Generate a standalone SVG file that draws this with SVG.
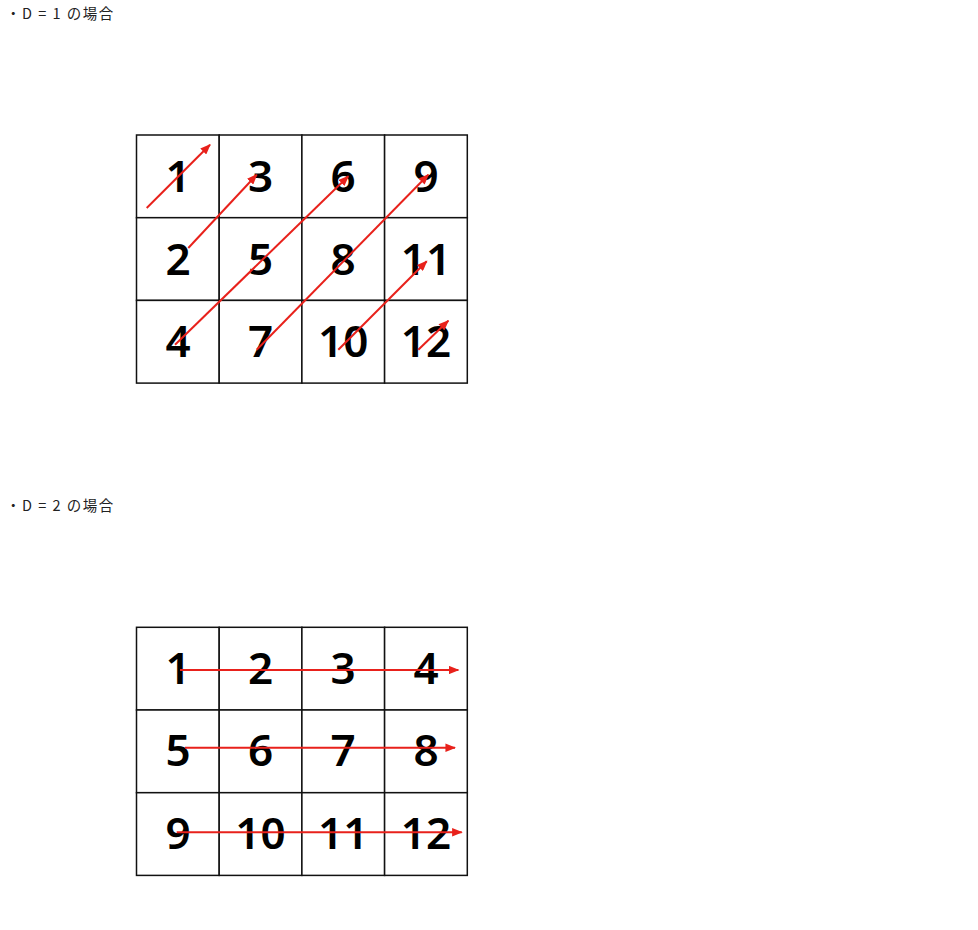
<svg xmlns="http://www.w3.org/2000/svg" width="978" height="930" viewBox="0 0 978 930">
<style>
.title{font-family:"Noto Sans CJK JP","Noto Sans",sans-serif;font-size:14.5px;letter-spacing:1.5px;fill:#222}
.cell{fill:#fff;stroke:#111;stroke-width:1.5}
.num{font-family:"Noto Sans","Liberation Sans",sans-serif;font-size:44px;font-weight:600;fill:#000;text-anchor:middle}
.arr{stroke:#e8211b;stroke-width:2;fill:none;marker-end:url(#ah)}
</style>
<defs>
<marker id="ah" viewBox="0 0 10 8" refX="9" refY="4" markerWidth="11" markerHeight="8.5" markerUnits="userSpaceOnUse" orient="auto">
<path d="M0,0 L10,4 L0,8 Z" fill="#e8211b"/>
</marker>
</defs>
<rect width="978" height="930" fill="#fff"/>
<text class="title" x="6" y="19">・D = 1 の場合</text>
<text class="title" x="6" y="511">・D = 2 の場合</text>

<g id="grid1">
<g id="g1-c1"><rect class="cell" x="136.5" y="135" width="82.7" height="82.7"/><text class="num" x="178" y="192">1</text></g>
<g id="g1-c3"><rect class="cell" x="219.2" y="135" width="82.7" height="82.7"/><text class="num" x="260.5" y="192">3</text></g>
<g id="g1-c6"><rect class="cell" x="301.9" y="135" width="82.7" height="82.7"/><text class="num" x="343.2" y="192">6</text></g>
<g id="g1-c9"><rect class="cell" x="384.6" y="135" width="82.7" height="82.7"/><text class="num" x="426" y="192">9</text></g>
<g id="g1-c2"><rect class="cell" x="136.5" y="217.7" width="82.7" height="82.7"/><text class="num" x="178" y="274.7">2</text></g>
<g id="g1-c5"><rect class="cell" x="219.2" y="217.7" width="82.7" height="82.7"/><text class="num" x="260.5" y="274.7">5</text></g>
<g id="g1-c8"><rect class="cell" x="301.9" y="217.7" width="82.7" height="82.7"/><text class="num" x="343.2" y="274.7">8</text></g>
<g id="g1-c11"><rect class="cell" x="384.6" y="217.7" width="82.7" height="82.7"/><text class="num" x="426" y="274.7">11</text></g>
<g id="g1-c4"><rect class="cell" x="136.5" y="300.4" width="82.7" height="82.7"/><text class="num" x="178" y="357.3">4</text></g>
<g id="g1-c7"><rect class="cell" x="219.2" y="300.4" width="82.7" height="82.7"/><text class="num" x="260.5" y="357.3">7</text></g>
<g id="g1-c10"><rect class="cell" x="301.9" y="300.4" width="82.7" height="82.7"/><text class="num" x="343.2" y="357.3">10</text></g>
<g id="g1-c12"><rect class="cell" x="384.6" y="300.4" width="82.7" height="82.7"/><text class="num" x="426" y="357.3">12</text></g>
</g>

<g id="grid2">
<g id="g2-c1"><rect class="cell" x="136.5" y="627.3" width="82.7" height="82.7"/><text class="num" x="178" y="683.5">1</text></g>
<g id="g2-c2"><rect class="cell" x="219.2" y="627.3" width="82.7" height="82.7"/><text class="num" x="260.5" y="683.5">2</text></g>
<g id="g2-c3"><rect class="cell" x="301.9" y="627.3" width="82.7" height="82.7"/><text class="num" x="343.2" y="683.5">3</text></g>
<g id="g2-c4"><rect class="cell" x="384.6" y="627.3" width="82.7" height="82.7"/><text class="num" x="426" y="683.5">4</text></g>
<g id="g2-c5"><rect class="cell" x="136.5" y="710" width="82.7" height="82.7"/><text class="num" x="178" y="766">5</text></g>
<g id="g2-c6"><rect class="cell" x="219.2" y="710" width="82.7" height="82.7"/><text class="num" x="260.5" y="766">6</text></g>
<g id="g2-c7"><rect class="cell" x="301.9" y="710" width="82.7" height="82.7"/><text class="num" x="343.2" y="766">7</text></g>
<g id="g2-c8"><rect class="cell" x="384.6" y="710" width="82.7" height="82.7"/><text class="num" x="426" y="766">8</text></g>
<g id="g2-c9"><rect class="cell" x="136.5" y="792.7" width="82.7" height="82.7"/><text class="num" x="178" y="848.5">9</text></g>
<g id="g2-c10"><rect class="cell" x="219.2" y="792.7" width="82.7" height="82.7"/><text class="num" x="260.5" y="848.5">10</text></g>
<g id="g2-c11"><rect class="cell" x="301.9" y="792.7" width="82.7" height="82.7"/><text class="num" x="343.2" y="848.5">11</text></g>
<g id="g2-c12"><rect class="cell" x="384.6" y="792.7" width="82.7" height="82.7"/><text class="num" x="426" y="848.5">12</text></g>
</g>

<g id="connectors">
<line class="arr" x1="146.7" y1="208" x2="210" y2="144.7"/>
<line class="arr" x1="188.3" y1="248" x2="256.7" y2="174.7"/>
<line class="arr" x1="175" y1="344.7" x2="348.3" y2="176.3"/>
<line class="arr" x1="256.7" y1="349.7" x2="428.3" y2="174.7"/>
<line class="arr" x1="338.3" y1="349.7" x2="426.7" y2="261.3"/>
<line class="arr" x1="418.3" y1="349.7" x2="448.3" y2="320.7"/>
<line class="arr" x1="180" y1="670" x2="458.3" y2="670"/>
<line class="arr" x1="185" y1="747.7" x2="455" y2="747.7"/>
<line class="arr" x1="176.7" y1="832.3" x2="461.7" y2="832.3"/>
</g>
</svg>
